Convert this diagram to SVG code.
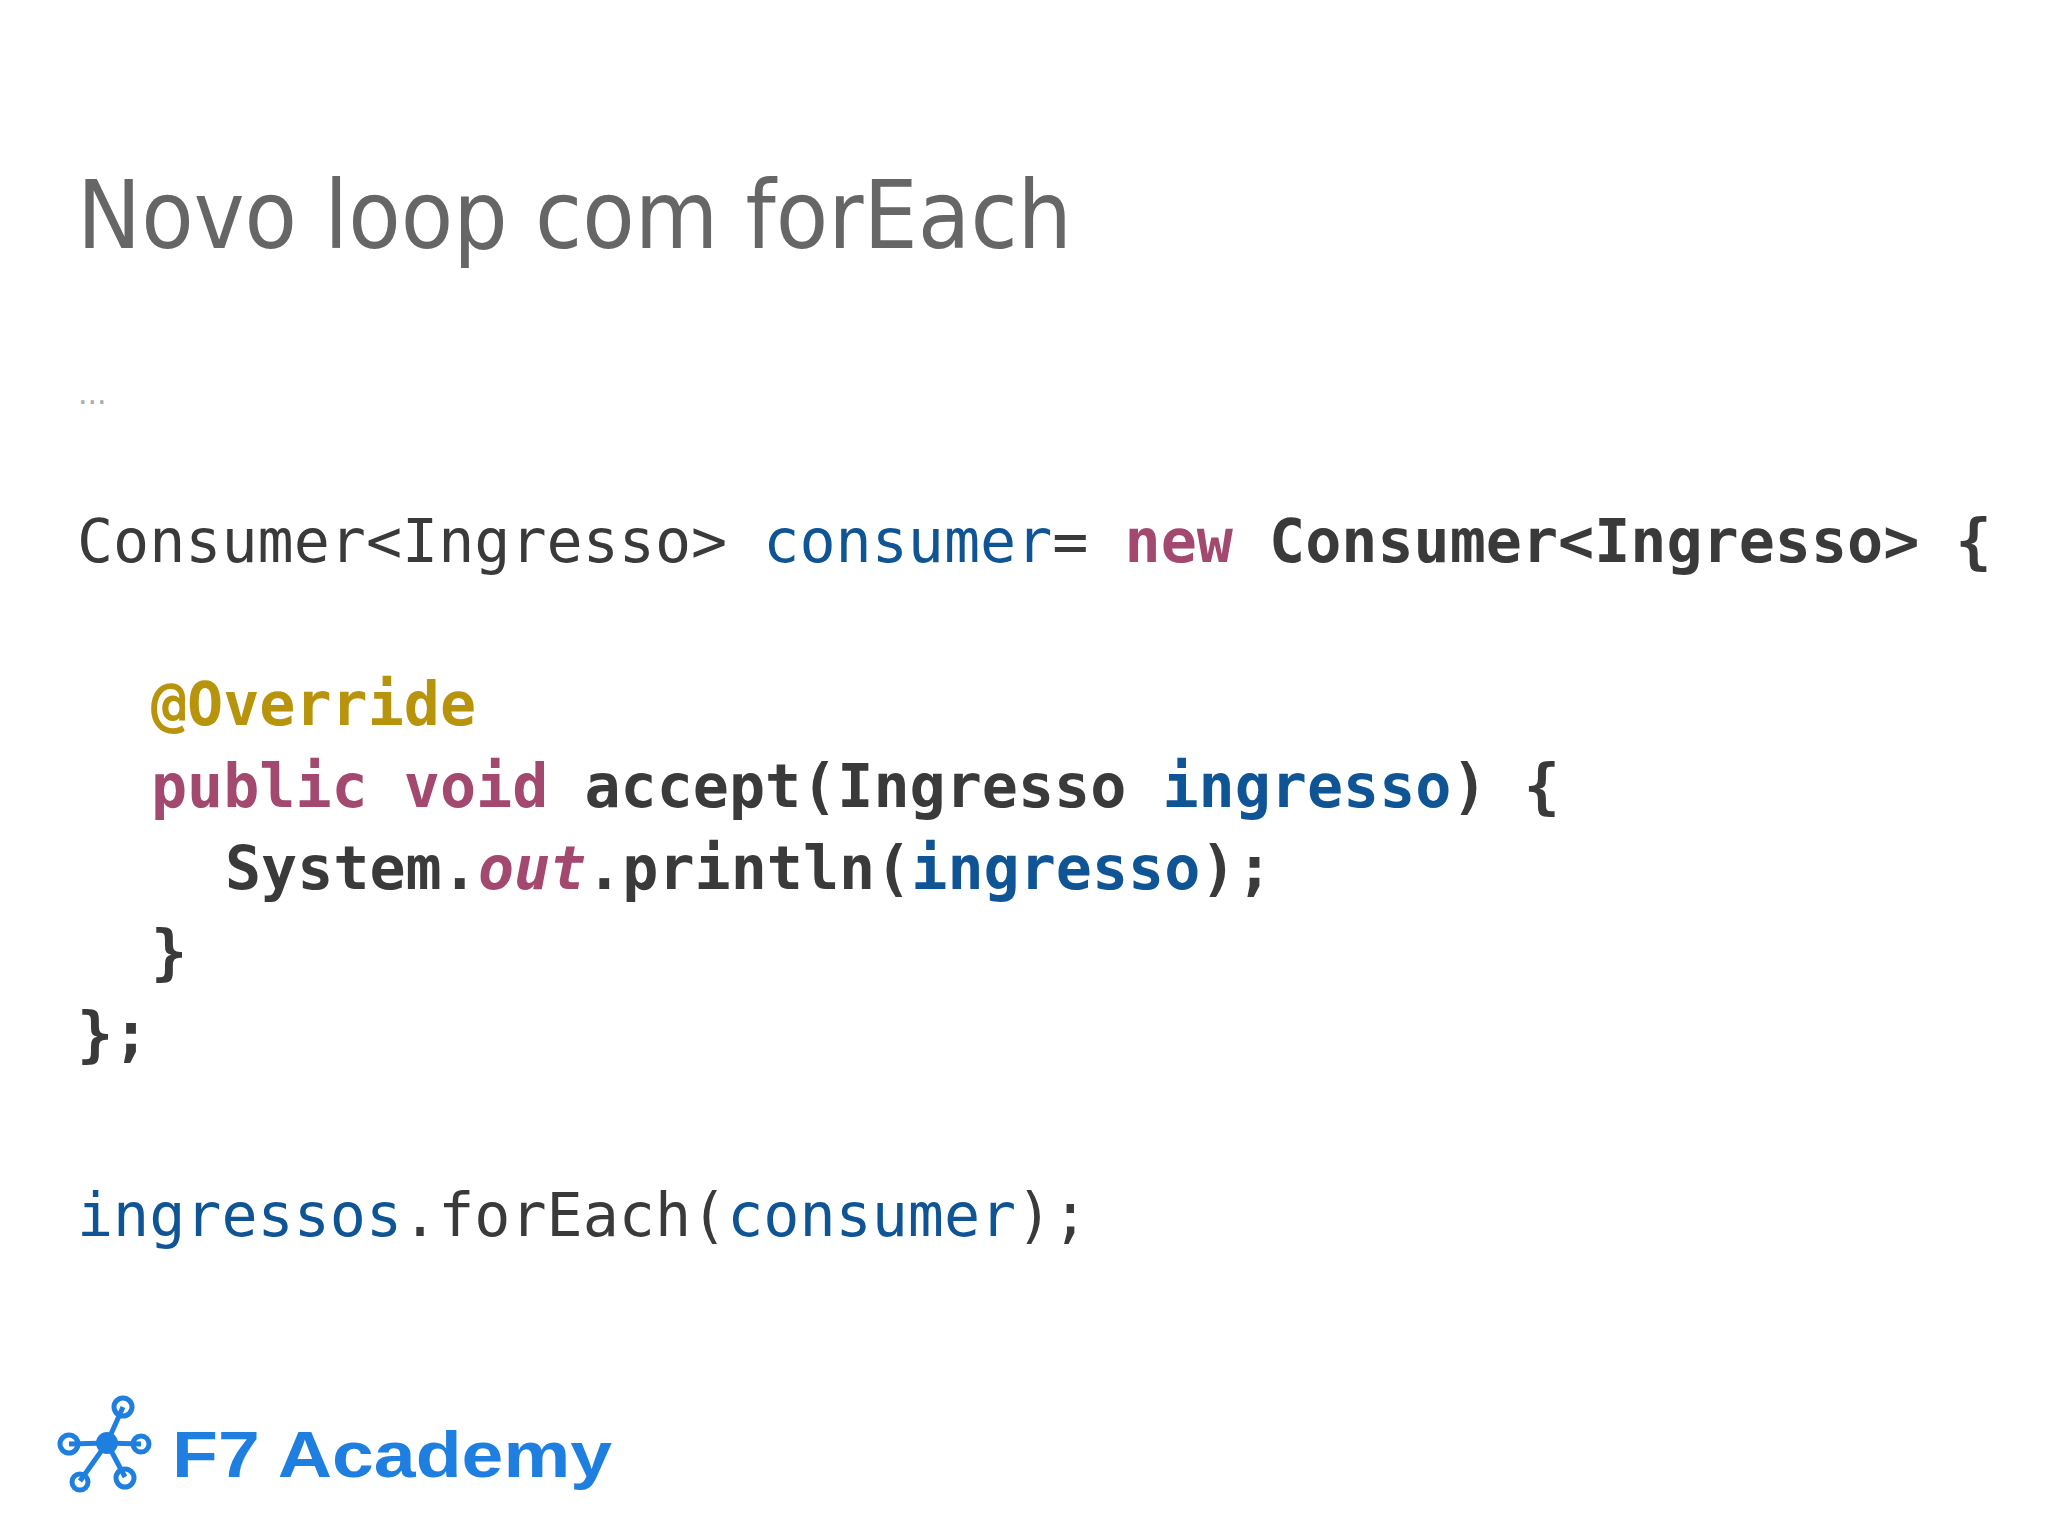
<svg xmlns="http://www.w3.org/2000/svg" width="2048" height="1536" viewBox="0 0 2048 1536">
<style>
.code{font-family:"DejaVu Sans Mono","Liberation Mono",monospace;font-size:60px;fill:#3a3a3a}
.b{font-weight:bold}
.blue{fill:#0f5494}
.pur{fill:#a3486f}
.gold{fill:#b8940c}
.it{font-style:italic}
.lg{fill:none;stroke:#1f7fe0;stroke-width:5}
</style>
<rect width="2048" height="1536" fill="#ffffff"/>
<g id="title"><text x="77" y="248" font-family="'DejaVu Sans',sans-serif" font-size="94" fill="#666666" textLength="995" lengthAdjust="spacingAndGlyphs">Novo loop com forEach</text></g>
<g id="ellipsis"><text x="78" y="404" font-family="'DejaVu Sans',sans-serif" font-size="30" fill="#aaaaaa">...</text></g>
<g id="code">
<text class="code" x="77" y="562" xml:space="preserve">Consumer&lt;Ingresso&gt; <tspan class="blue">consumer</tspan>= <tspan class="pur b">new</tspan> <tspan class="b">Consumer&lt;Ingresso&gt; {</tspan></text>
<text class="code b gold" x="151" y="725">@Override</text>
<text class="code b" x="151" y="807" xml:space="preserve"><tspan class="pur">public void</tspan> accept(Ingresso <tspan class="blue">ingresso</tspan>) {</text>
<text class="code b" x="225" y="889" xml:space="preserve">System.<tspan class="pur it">out</tspan>.println(<tspan class="blue">ingresso</tspan>);</text>
<text class="code b" x="151" y="973">}</text>
<text class="code b" x="77" y="1055">};</text>
<text class="code" x="77" y="1236" xml:space="preserve"><tspan class="blue">ingressos</tspan>.forEach(<tspan class="blue">consumer</tspan>);</text>
</g>
<g id="logo" transform="translate(0,-15)">
<line class="lg" x1="107" y1="1458" x2="123" y2="1422"/>
<line class="lg" x1="107" y1="1458" x2="69" y2="1459"/>
<line class="lg" x1="107" y1="1458" x2="141" y2="1459"/>
<line class="lg" x1="107" y1="1458" x2="80" y2="1496"/>
<line class="lg" x1="107" y1="1458" x2="125" y2="1492"/>
<circle cx="107" cy="1458" r="11" fill="#1f7fe0"/>
<circle cx="123" cy="1422" r="9" fill="#fff" class="lg"/>
<circle cx="69" cy="1459" r="9" fill="#fff" class="lg"/>
<circle cx="141" cy="1459" r="8" fill="#fff" class="lg"/>
<circle cx="80" cy="1497" r="8" fill="#fff" class="lg"/>
<circle cx="125" cy="1493" r="9" fill="#fff" class="lg"/>
<text x="172" y="1492" font-family="'Liberation Sans',sans-serif" font-weight="bold" font-size="64" fill="#1f7fe0" textLength="440" lengthAdjust="spacingAndGlyphs">F7 Academy</text>
</g>
</svg>
